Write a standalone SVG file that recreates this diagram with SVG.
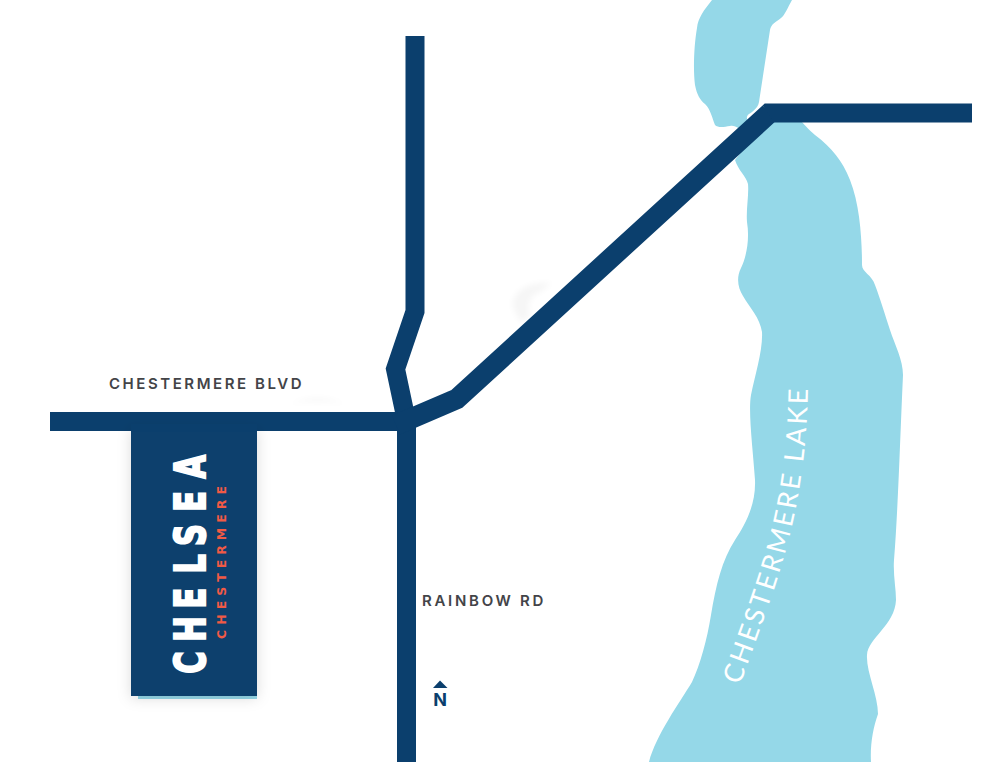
<svg xmlns="http://www.w3.org/2000/svg" width="993" height="762" viewBox="0 0 993 762">
<defs>
<style>
.road{fill:none;stroke:#0b3f6d;stroke-width:19;stroke-linejoin:miter}
.lake{fill:#95d8e8}
.lbl{font-family:"Inter","Lato",sans-serif;font-weight:600;font-size:15px;fill:#434448}
</style>
<filter id="sh" x="-20%" y="-10%" width="140%" height="120%"><feDropShadow dx="0" dy="2" stdDeviation="7" flood-color="#000" flood-opacity="0.14"/></filter>
<filter id="bl" x="-50%" y="-50%" width="200%" height="200%"><feGaussianBlur stdDeviation="3"/></filter>
<path id="lakeline" d="M740,685C760,628 790,555 800,484C805,450 808,420 808,370"/>
</defs>
<rect width="993" height="762" fill="#fff"/>
<g id="lake">
<path class="lake" d="M712,0C704,10 698,18 697,28C694,45 693,70 695,85C697,95 700,100 705,104C711,110 712,118 715,125C718,128 724,127 730,126C735,125 738,128 741,130L750,122C746,120 746,116 749,114C752,112 758,108 759,102L770,30C771,24 776,22 781,18C785,15 788,7 792,0Z"/>
<path class="lake" d="M735,160C738,170 746,176 748,184C749,195 746,210 747,222C750,240 746,258 741,268C736,278 738,288 743,296C750,308 760,318 762,332C763,350 755,375 751,395C748,412 753,450 755,480C756,505 745,525 735,540C722,560 716,585 711,615C707,640 700,665 692,682C680,702 656,735 649,762L871,762C870,745 873,728 878,714C878,695 866,672 867,655C868,638 895,625 896,600C896,588 893,575 894,560C898,510 900,440 903,375C903,360 895,345 890,330C885,315 880,298 875,285C872,275 862,272 862,265C862,240 860,205 850,180C842,160 832,148 815,135C808,129 804,124 800,120L770,115Z"/>
</g>
<g id="smudges" fill="#000" opacity="0.035" filter="url(#bl)">
<path d="M512,305C514,290 530,281 552,283L540,292C530,295 526,305 530,318L520,322Z"/>
<path d="M290,405C300,396 335,396 345,405L335,402L300,402Z"/>
</g>
<g id="connectors">
<path class="road" d="M50,421.500H406"/>
<path class="road" d="M406.500,425V762"/>
<path class="road" d="M415,36V311.500L395.500,369L408,428"/>
<path class="road" style="stroke-width:20.500" d="M396,425L456.700,399L769.500,113"/>
<path d="M764.700,103.500H972V122.500H774.300L762.600,105.400Z" fill="#0b3f6d"/>
</g>
<g id="chelsea-block">
<rect x="138" y="600" width="119" height="99" fill="#95d8e8"/>
<rect x="131" y="428" width="126" height="268" fill="#0b3f6d" filter="url(#sh)"/>
<rect x="131" y="424" width="126" height="8" fill="#0b3f6d"/>
<text transform="translate(205,673) rotate(-90) scale(.7,1)" x="-1 44.800 92 142 181.500 230.500 278" y="0" font-family="'DejaVu Sans',sans-serif" font-weight="700" font-size="43.500px" fill="#fff" stroke="#fff" stroke-width="2.200">CHELSEA</text>
<text x="225.500" y="639" transform="rotate(-90 225.500 639)" font-family="'DejaVu Sans',sans-serif" font-weight="700" font-size="12.500px" letter-spacing="5" fill="#f15a45">CHESTERMERE</text>
</g>
<g id="label-blvd"><text class="lbl" x="109" y="389" letter-spacing="2.55">CHESTERMERE BLVD</text></g>
<g id="label-rainbow"><text class="lbl" x="422" y="606" letter-spacing="2.7">RAINBOW RD</text></g>
<g id="label-lake"><text font-family="'Lato',sans-serif" font-size="27px" letter-spacing="2.85" fill="#fff"><textPath href="#lakeline">CHESTERMERE LAKE</textPath></text></g>
<g id="north">
<path d="M433,688L440,680.500L447.500,688Z" fill="#0b3f6d"/>
<text x="440" y="706" text-anchor="middle" font-family="'Inter',sans-serif" font-weight="700" font-size="18px" fill="#0b3f6d">N</text>
</g>
</svg>
